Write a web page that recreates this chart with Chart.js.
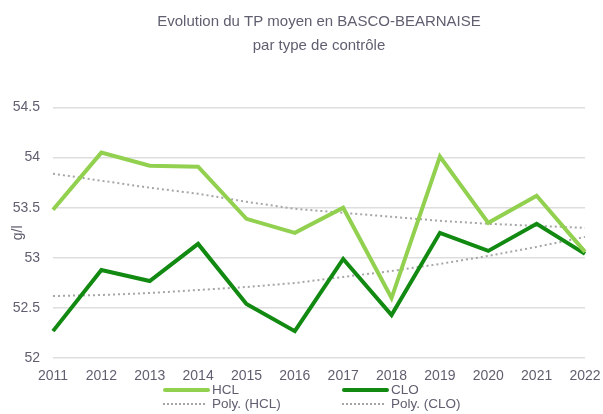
<!DOCTYPE html>
<html>
<head>
<meta charset="utf-8">
<script src="https://cdn.jsdelivr.net/npm/chart.js@4/dist/chart.umd.min.js"></script>
<style>
  body { margin: 0; background: #fff; }
  #wrap { position: relative; width: 603px; height: 414px; }
  #legend {
    position: absolute; left: 163px; top: 383px;
    display: grid; grid-template-columns: 179px 150px;
    font-family: Arial, "Liberation Sans", sans-serif; font-size: 13.5px; color: #5f5f70;
  }
  .item { display: flex; align-items: center; height: 14px; line-height: 14px; }
  .swatch { width: 47px; margin-right: 2px; }
</style>
</head>
<body>
<div id="wrap">
  <canvas id="chart" width="603" height="414"></canvas>
  <div id="legend"></div>
</div>
<script>
// Données
const years = ['2011','2012','2013','2014','2015','2016','2017','2018','2019','2020','2021','2022'];
const hcl = [53.48, 54.05, 53.92, 53.91, 53.39, 53.25, 53.50, 52.60, 54.01, 53.35, 53.62, 53.06];
const clo = [52.27, 52.88, 52.77, 53.14, 52.54, 52.27, 52.99, 52.43, 53.25, 53.07, 53.34, 53.04];
const polyHcl = [53.84, 53.77, 53.70, 53.64, 53.56, 53.49, 53.45, 53.41, 53.37, 53.34, 53.32, 53.30];
const polyClo = [52.62, 52.63, 52.65, 52.68, 52.71, 52.75, 52.81, 52.87, 52.94, 53.02, 53.11, 53.21];

const txt = '#5f5f70';
const ctx = document.getElementById('chart').getContext('2d');

const datasets = [
    { label: 'HCL', data: hcl, borderColor: '#92d050', borderWidth: 4 },
    { label: 'CLO', data: clo, borderColor: '#128a12', borderWidth: 4 },
    { label: 'Poly. (HCL)', data: polyHcl, borderColor: '#a6a6a6', borderWidth: 2, borderDash: [2, 3] },
    { label: 'Poly. (CLO)', data: polyClo, borderColor: '#a6a6a6', borderWidth: 2, borderDash: [2, 3] }
];
datasets.forEach(d => { d.pointRadius = 0; d.tension = 0; d.fill = false; d.borderJoinStyle = 'miter'; });

new Chart(ctx, {
    type: 'line',
    data: { labels: years, datasets: datasets },
    options: {
        responsive: false,
        animation: false,
        layout: { padding: { left: 0, right: 18, top: 0, bottom: 27 } },
        plugins: {
            legend: { display: false },
            tooltip: { enabled: false },
            title: {
                display: true,
                fullSize: false,
                text: ['Evolution du TP moyen en BASCO-BEARNAISE', 'par type de contrôle'],
                color: txt,
                font: { family: 'Arial, "Liberation Sans", sans-serif', size: 15, weight: 'normal', lineHeight: 1.65 },
                padding: { top: 9, bottom: 49 }
            }
        },
        scales: {
            x: {
                grid: { display: false },
                border: { display: false },
                ticks: { color: txt, font: { family: 'Arial, "Liberation Sans", sans-serif', size: 14 }, padding: 2, maxRotation: 0, autoSkip: false }
            },
            y: {
                min: 52, max: 54.5,
                afterFit: s => { s.width = 53; },
                grid: { color: '#dedede', lineWidth: 1.5, drawTicks: false },
                border: { display: false },
                title: { display: true, text: 'g/l', color: txt, font: { family: 'Arial, "Liberation Sans", sans-serif', size: 14 }, padding: { top: 10, bottom: 0 } },
                ticks: {
                    stepSize: 0.5, color: txt, padding: 13,
                    font: { family: 'Arial, "Liberation Sans", sans-serif', size: 14 },
                    callback: v => String(v)
                }
            }
        }
    }
});

// Légende HTML sur deux colonnes, comme l'original
const legendEl = document.getElementById('legend');
datasets.forEach(d => {
    const dashed = d.borderDash && d.borderDash.length;
    const line = dashed
        ? `border-top: 2px dotted ${d.borderColor}; width: 42px; margin-right: 7px;`
        : `border-top: 4px solid ${d.borderColor}; border-radius: 2px;`;
    legendEl.insertAdjacentHTML('beforeend',
        `<div class="item"><span class="swatch" style="${line}"></span>${d.label}</div>`);
});
</script>
</body>
</html>
